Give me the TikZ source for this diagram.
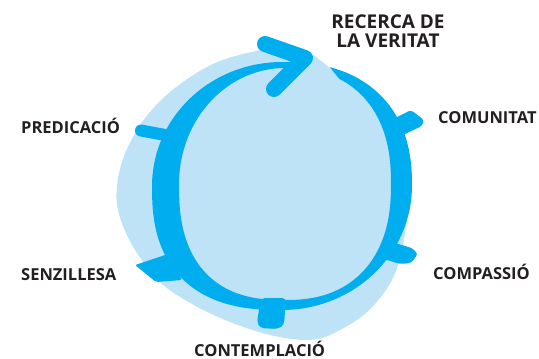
\documentclass[tikz,border=0pt]{standalone}
\usepackage{fontspec}
\setmainfont{Open Sans}
\definecolor{ringblue}{HTML}{00AEEF}
\definecolor{blobblue}{HTML}{BEE3F6}
\definecolor{txt}{HTML}{231F20}
\tikzset{
  lbl/.style={anchor=base west, inner sep=0pt, text=txt, font=\fontsize{16.5}{19}\selectfont\bfseries},
  biglbl/.style={anchor=base, inner sep=0pt, text=txt, font=\fontsize{19}{19.5}\selectfont\bfseries},
  tickshape/.style={fill=ringblue, rounded corners=3pt},
  declare function={
    pw(\a,\p)=exp(\p*ln(max(\a,0.0001)));
    ex(\t,\c,\r,\p)=\c+\r*cos(\t)*pw(abs(cos(\t)),\p-1);
    ey(\t,\c,\r,\p)=\c-\r*sin(\t)*pw(abs(sin(\t)),\p-1);
  }
}
\begin{document}
\begin{tikzpicture}[x=1pt,y=-1pt]
\useasboundingbox (0,0) rectangle (539,359);
% light blob
\fill[blobblue] plot[smooth cycle, tension=0.55] coordinates {
 (268,49) (305,51) (330,68) (365,95) (395,140) (406,200) (404,240) (392,280)
 (366,313) (330,335) (305,340) (270,335) (230,322) (192,304) (160,282)
 (132,245) (117,205) (121,165) (140,125) (170,92) (215,63)};
% ticks
\fill[tickshape] (393,119) -- (411,110) -- (424,120) -- (422,126) -- (405,134) -- (398,139) -- cycle;
\fill[tickshape] (388,241) -- (412,248) -- (418,254) -- (411,263) -- (400,264) -- (384,259) -- cycle;
\draw[ringblue, line width=12pt, line cap=round] (141,130.5) -- (176,137);
\fill[tickshape, rounded corners=2pt] (135,265) -- (168,254) -- (182,280) -- (156,282) -- cycle;
\fill[tickshape, rounded corners=4pt] (261,298) -- (286,298) -- (284,325) -- (278,329) -- (260,328) -- (257,322) -- cycle;
% ring
\fill[ringblue]
  plot[domain=72:0, samples=40, variable=\t] ({ex(\t,282,130,0.85)},{ey(\t,186,124,0.85)})
  -- plot[domain=0:-90, samples=40, variable=\t] ({ex(\t,282,130,1)},{ey(\t,186,124,1)})
  -- plot[domain=-90:-180, samples=40, variable=\t] ({ex(\t,282,130,0.8)},{ey(\t,186,124,0.8)})
  -- plot[domain=-180:-277, samples=40, variable=\t] ({ex(\t,282,130,1)},{ey(\t,186,124,1)})
  -- plot[domain=-277:-180, samples=40, variable=\t] ({ex(\t,285,106,1)},{ey(\t,184,116,1)})
  -- plot[domain=-180:-90, samples=40, variable=\t] ({ex(\t,285,106,0.8)},{ey(\t,184,116,0.8)})
  -- plot[domain=-90:0, samples=40, variable=\t] ({ex(\t,285,106,0.85)},{ey(\t,184,116,0.85)})
  -- plot[domain=0:63, samples=40, variable=\t] ({ex(\t,285,106,0.85)},{ey(\t,184,116,0.85)})
  -- cycle;
% arrowhead
\coordinate (au) at (265,44);
\coordinate (av) at (305,58);
\coordinate (al) at (274,89);
\draw[ringblue, line width=16pt, line cap=round, line join=round] (au) -- (av) -- (al);
% labels
\node[biglbl] (rv1) at (388,28) {RECERCA DE};
\node[biglbl] (rv2) at (388,47.5) {LA VERITAT};
\node[lbl] (com) at (438,123) {COMUNITAT};
\node[lbl] (pre) at (21,133) {PREDICACIÓ};
\node[lbl] (sen) at (21,280) {SENZILLESA};
\node[lbl] (cps) at (433,279) {COMPASSIÓ};
\node[lbl] (cnt) at (194,356) {CONTEMPLACIÓ};
\end{tikzpicture}
\end{document}
